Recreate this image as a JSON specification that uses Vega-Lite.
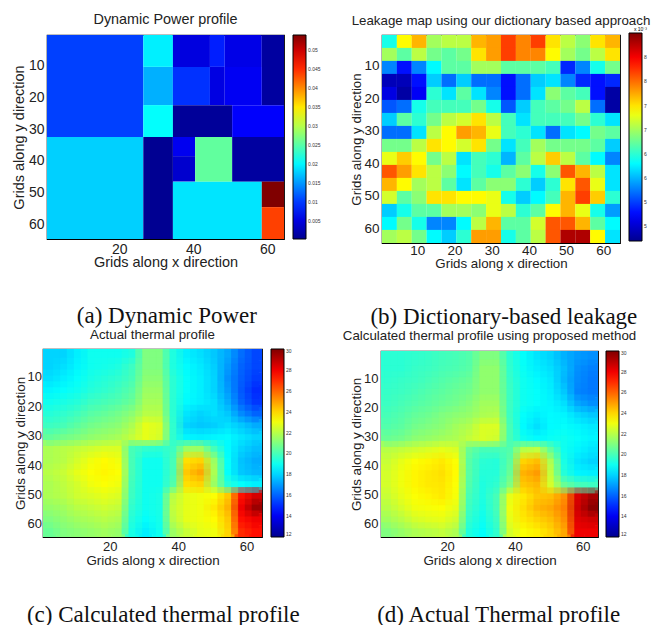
{"$schema":"https://vega.github.io/schema/vega-lite/v6.json","padding":{"left":10,"top":11,"right":0,"bottom":0},"autosize":{"type":"pad"},"background":"white",
"config":{"font":"Liberation Sans","view":{"stroke":"black","strokeWidth":1.2},"axis":{"domain":false,"grid":false,"tickColor":"black","tickSize":-3,"labelColor":"#222","titleColor":"#222","titleFontWeight":"normal","labelPadding":6,"titlePadding":0},"legend":{"labelFontSize":5,"labelColor":"#333","labelOverlap":false,"gradientStrokeColor":"black","gradientStrokeWidth":1,"gradientThickness":13,"labelOffset":2,"titleFontWeight":"normal"},"title":{"font":"Liberation Sans","fontWeight":"normal","color":"#222"}},
"resolve":{"scale":{"color":"independent"}},"spacing":-3,
"vconcat":[
{"hconcat":[
{"title":{"text":"(a) Dynamic Power","orient":"bottom","font":"Liberation Serif","fontSize":23,"color":"#111","anchor":"start","offset":36,"dx":66},"spacing":-34,"resolve":{"scale":{"color":"independent"}},"hconcat":[
{"width":1,"height":1,"view":{"stroke":null},"data":{"values":[{"v":0}]},"mark":{"type":"rect","opacity":0},"encoding":{}},
{"title":{"text":"Dynamic Power profile","fontSize":14.4,"offset":8},"width":237,"height":204,
"data":{"values":[{"x":0.5,"x2":26.5,"y":0.5,"y2":32.5,"v":0.0103},{"x":0.5,"x2":26.5,"y":32.5,"y2":64.5,"v":0.0179},{"x":26.5,"x2":34.5,"y":0.5,"y2":10.5,"v":0.0196},{"x":26.5,"x2":34.5,"y":10.5,"y2":22.5,"v":0.0162},{"x":26.5,"x2":34.5,"y":22.5,"y2":32.5,"v":0.0205},{"x":26.5,"x2":34.5,"y":32.5,"y2":64.5,"v":0.0004},{"x":34.5,"x2":44.5,"y":0.5,"y2":10.5,"v":0.005},{"x":44.5,"x2":48.5,"y":0.5,"y2":10.5,"v":0.0085},{"x":48.5,"x2":58.5,"y":0.5,"y2":10.5,"v":0.0055},{"x":58.5,"x2":64.5,"y":0.5,"y2":22.5,"v":0.0012},{"x":34.5,"x2":44.5,"y":10.5,"y2":22.5,"v":0.0095},{"x":44.5,"x2":48.5,"y":10.5,"y2":22.5,"v":0.0052},{"x":48.5,"x2":58.5,"y":10.5,"y2":22.5,"v":0.0062},{"x":34.5,"x2":50.5,"y":22.5,"y2":32.5,"v":0.0008},{"x":50.5,"x2":64.5,"y":22.5,"y2":32.5,"v":0.0068},{"x":34.5,"x2":40.5,"y":32.5,"y2":38.5,"v":0.006},{"x":34.5,"x2":40.5,"y":38.5,"y2":46.5,"v":0.004},{"x":40.5,"x2":50.5,"y":32.5,"y2":46.5,"v":0.0255},{"x":50.5,"x2":64.5,"y":32.5,"y2":46.5,"v":0.0012},{"x":34.5,"x2":58.5,"y":46.5,"y2":64.5,"v":0.019},{"x":58.5,"x2":64.5,"y":46.5,"y2":54.5,"v":0.054},{"x":58.5,"x2":64.5,"y":54.5,"y2":64.5,"v":0.0439}]},
"mark":{"type":"rect","clip":true,"stroke":null},
"encoding":{"x":{"field":"x","type":"quantitative","scale":{"domain":[0.5,64.5],"nice":false,"zero":false},"axis":{"values":[20,40,60],"title":"Grids along x direction","labelFontSize":14,"titleFontSize":14.5,"titlePadding":-1}},"x2":{"field":"x2"},"y":{"field":"y","type":"quantitative","scale":{"domain":[64.5,0.5],"nice":false,"zero":false},"axis":{"values":[10,20,30,40,50,60],"title":"Grids along y direction","labelFontSize":14,"titleFontSize":14.5,"titlePadding":2}},"y2":{"field":"y2"},"color":{"field":"v","type":"quantitative","scale":{"domain":[0.0002,0.00693,0.02038,0.03383,0.04728,0.054],"range":["#00008f","#0000ff","#00ffff","#ffff00","#ff0000","#800000"],"interpolate":"rgb"},"legend":{"title":null,"orient":"none","legendX":246,"legendY":0,"gradientLength":204,"format":".3~f","values":[0.005,0.01,0.015,0.02,0.025,0.03,0.035,0.04,0.045,0.05]}}}}
]},
{"title":{"text":"(b) Dictionary-based leakage","orient":"bottom","font":"Liberation Serif","fontSize":23,"color":"#111","anchor":"start","offset":36,"dx":21},"vconcat":[
{"title":{"text":"Leakage map using our dictionary based approach","fontSize":13.3,"offset":8},"width":238,"height":208,
"data":{"values":[
{"x":2.5,"y":2.5,"v":5.9},{"x":6.5,"y":2.5,"v":6.9},{"x":10.5,"y":2.5,"v":7.2},{"x":14.5,"y":2.5,"v":6.5},{"x":18.5,"y":2.5,"v":6.6},{"x":22.5,"y":2.5,"v":6.6},{"x":26.5,"y":2.5,"v":7.2},{"x":30.5,"y":2.5,"v":7.3},{"x":34.5,"y":2.5,"v":7.7},{"x":38.5,"y":2.5,"v":7.4},{"x":42.5,"y":2.5,"v":7.7},{"x":46.5,"y":2.5,"v":7.0},{"x":50.5,"y":2.5,"v":6.6},{"x":54.5,"y":2.5,"v":6.4},{"x":58.5,"y":2.5,"v":7.0},{"x":62.5,"y":2.5,"v":7.2},
{"x":2.5,"y":6.5,"v":6.5},{"x":6.5,"y":6.5,"v":6.2},{"x":10.5,"y":6.5,"v":6.6},{"x":14.5,"y":6.5,"v":6.3},{"x":18.5,"y":6.5,"v":6.2},{"x":22.5,"y":6.5,"v":6.3},{"x":26.5,"y":6.5,"v":7.0},{"x":30.5,"y":6.5,"v":7.3},{"x":34.5,"y":6.5,"v":7.7},{"x":38.5,"y":6.5,"v":7.4},{"x":42.5,"y":6.5,"v":7.4},{"x":46.5,"y":6.5,"v":6.9},{"x":50.5,"y":6.5,"v":6.5},{"x":54.5,"y":6.5,"v":6.3},{"x":58.5,"y":6.5,"v":6.6},{"x":62.5,"y":6.5,"v":7.0},
{"x":2.5,"y":10.5,"v":5.3},{"x":6.5,"y":10.5,"v":4.8},{"x":10.5,"y":10.5,"v":5.3},{"x":14.5,"y":10.5,"v":5.8},{"x":18.5,"y":10.5,"v":6.2},{"x":22.5,"y":10.5,"v":6.2},{"x":26.5,"y":10.5,"v":6.5},{"x":30.5,"y":10.5,"v":6.5},{"x":34.5,"y":10.5,"v":6.2},{"x":38.5,"y":10.5,"v":6.2},{"x":42.5,"y":10.5,"v":6.2},{"x":46.5,"y":10.5,"v":6.1},{"x":50.5,"y":10.5,"v":4.9},{"x":54.5,"y":10.5,"v":5.3},{"x":58.5,"y":10.5,"v":5.9},{"x":62.5,"y":10.5,"v":6.3},
{"x":2.5,"y":14.5,"v":4.4},{"x":6.5,"y":14.5,"v":4.4},{"x":10.5,"y":14.5,"v":4.8},{"x":14.5,"y":14.5,"v":5.6},{"x":18.5,"y":14.5,"v":5.2},{"x":22.5,"y":14.5,"v":5.6},{"x":26.5,"y":14.5,"v":5.2},{"x":30.5,"y":14.5,"v":5.2},{"x":34.5,"y":14.5,"v":4.8},{"x":38.5,"y":14.5,"v":5.2},{"x":42.5,"y":14.5,"v":5.6},{"x":46.5,"y":14.5,"v":5.7},{"x":50.5,"y":14.5,"v":5.3},{"x":54.5,"y":14.5,"v":4.9},{"x":58.5,"y":14.5,"v":4.8},{"x":62.5,"y":14.5,"v":4.9},
{"x":2.5,"y":18.5,"v":4.6},{"x":6.5,"y":18.5,"v":4.3},{"x":10.5,"y":18.5,"v":4.7},{"x":14.5,"y":18.5,"v":6.0},{"x":18.5,"y":18.5,"v":5.7},{"x":22.5,"y":18.5,"v":6.2},{"x":26.5,"y":18.5,"v":5.7},{"x":30.5,"y":18.5,"v":5.3},{"x":34.5,"y":18.5,"v":4.8},{"x":38.5,"y":18.5,"v":5.2},{"x":42.5,"y":18.5,"v":5.7},{"x":46.5,"y":18.5,"v":6.4},{"x":50.5,"y":18.5,"v":6.2},{"x":54.5,"y":18.5,"v":6.1},{"x":58.5,"y":18.5,"v":4.8},{"x":62.5,"y":18.5,"v":4.3},
{"x":2.5,"y":22.5,"v":5.1},{"x":6.5,"y":22.5,"v":5.2},{"x":10.5,"y":22.5,"v":5.9},{"x":14.5,"y":22.5,"v":6.1},{"x":18.5,"y":22.5,"v":6.1},{"x":22.5,"y":22.5,"v":6.1},{"x":26.5,"y":22.5,"v":6.3},{"x":30.5,"y":22.5,"v":5.9},{"x":34.5,"y":22.5,"v":5.1},{"x":38.5,"y":22.5,"v":5.6},{"x":42.5,"y":22.5,"v":6.1},{"x":46.5,"y":22.5,"v":6.2},{"x":50.5,"y":22.5,"v":6.3},{"x":54.5,"y":22.5,"v":6.6},{"x":58.5,"y":22.5,"v":5.2},{"x":62.5,"y":22.5,"v":4.3},
{"x":2.5,"y":26.5,"v":5.6},{"x":6.5,"y":26.5,"v":6.2},{"x":10.5,"y":26.5,"v":6.0},{"x":14.5,"y":26.5,"v":6.3},{"x":18.5,"y":26.5,"v":6.6},{"x":22.5,"y":26.5,"v":6.7},{"x":26.5,"y":26.5,"v":7.0},{"x":30.5,"y":26.5,"v":6.6},{"x":34.5,"y":26.5,"v":6.1},{"x":38.5,"y":26.5,"v":5.7},{"x":42.5,"y":26.5,"v":6.1},{"x":46.5,"y":26.5,"v":6.1},{"x":50.5,"y":26.5,"v":6.1},{"x":54.5,"y":26.5,"v":6.3},{"x":58.5,"y":26.5,"v":6.0},{"x":62.5,"y":26.5,"v":5.7},
{"x":2.5,"y":30.5,"v":5.2},{"x":6.5,"y":30.5,"v":5.2},{"x":10.5,"y":30.5,"v":5.7},{"x":14.5,"y":30.5,"v":6.6},{"x":18.5,"y":30.5,"v":6.9},{"x":22.5,"y":30.5,"v":7.3},{"x":26.5,"y":30.5,"v":7.2},{"x":30.5,"y":30.5,"v":6.8},{"x":34.5,"y":30.5,"v":6.1},{"x":38.5,"y":30.5,"v":6.0},{"x":42.5,"y":30.5,"v":5.7},{"x":46.5,"y":30.5,"v":5.2},{"x":50.5,"y":30.5,"v":5.7},{"x":54.5,"y":30.5,"v":5.8},{"x":58.5,"y":30.5,"v":6.3},{"x":62.5,"y":30.5,"v":6.2},
{"x":2.5,"y":34.5,"v":6.3},{"x":6.5,"y":34.5,"v":6.3},{"x":10.5,"y":34.5,"v":6.6},{"x":14.5,"y":34.5,"v":7.0},{"x":18.5,"y":34.5,"v":6.9},{"x":22.5,"y":34.5,"v":6.7},{"x":26.5,"y":34.5,"v":7.0},{"x":30.5,"y":34.5,"v":6.3},{"x":34.5,"y":34.5,"v":5.7},{"x":38.5,"y":34.5,"v":6.1},{"x":42.5,"y":34.5,"v":6.5},{"x":46.5,"y":34.5,"v":6.3},{"x":50.5,"y":34.5,"v":6.3},{"x":54.5,"y":34.5,"v":6.3},{"x":58.5,"y":34.5,"v":6.2},{"x":62.5,"y":34.5,"v":5.6},
{"x":2.5,"y":38.5,"v":6.8},{"x":6.5,"y":38.5,"v":7.1},{"x":10.5,"y":38.5,"v":6.9},{"x":14.5,"y":38.5,"v":6.3},{"x":18.5,"y":38.5,"v":6.6},{"x":22.5,"y":38.5,"v":5.7},{"x":26.5,"y":38.5,"v":6.1},{"x":30.5,"y":38.5,"v":6.0},{"x":34.5,"y":38.5,"v":5.5},{"x":38.5,"y":38.5,"v":6.2},{"x":42.5,"y":38.5,"v":6.6},{"x":46.5,"y":38.5,"v":7.1},{"x":50.5,"y":38.5,"v":6.6},{"x":54.5,"y":38.5,"v":6.2},{"x":58.5,"y":38.5,"v":5.8},{"x":62.5,"y":38.5,"v":5.3},
{"x":2.5,"y":42.5,"v":7.6},{"x":6.5,"y":42.5,"v":7.3},{"x":10.5,"y":42.5,"v":7.0},{"x":14.5,"y":42.5,"v":6.6},{"x":18.5,"y":42.5,"v":6.4},{"x":22.5,"y":42.5,"v":5.8},{"x":26.5,"y":42.5,"v":6.1},{"x":30.5,"y":42.5,"v":5.9},{"x":34.5,"y":42.5,"v":6.2},{"x":38.5,"y":42.5,"v":6.4},{"x":42.5,"y":42.5,"v":5.9},{"x":46.5,"y":42.5,"v":6.4},{"x":50.5,"y":42.5,"v":7.6},{"x":54.5,"y":42.5,"v":7.2},{"x":58.5,"y":42.5,"v":6.6},{"x":62.5,"y":42.5,"v":5.7},
{"x":2.5,"y":46.5,"v":7.2},{"x":6.5,"y":46.5,"v":6.9},{"x":10.5,"y":46.5,"v":6.5},{"x":14.5,"y":46.5,"v":6.6},{"x":18.5,"y":46.5,"v":6.2},{"x":22.5,"y":46.5,"v":5.7},{"x":26.5,"y":46.5,"v":6.2},{"x":30.5,"y":46.5,"v":6.4},{"x":34.5,"y":46.5,"v":6.4},{"x":38.5,"y":46.5,"v":6.0},{"x":42.5,"y":46.5,"v":5.6},{"x":46.5,"y":46.5,"v":6.0},{"x":50.5,"y":46.5,"v":7.0},{"x":54.5,"y":46.5,"v":7.6},{"x":58.5,"y":46.5,"v":6.8},{"x":62.5,"y":46.5,"v":5.7},
{"x":2.5,"y":50.5,"v":6.7},{"x":6.5,"y":50.5,"v":6.2},{"x":10.5,"y":50.5,"v":6.4},{"x":14.5,"y":50.5,"v":7.0},{"x":18.5,"y":50.5,"v":7.0},{"x":22.5,"y":50.5,"v":6.9},{"x":26.5,"y":50.5,"v":6.9},{"x":30.5,"y":50.5,"v":6.8},{"x":34.5,"y":50.5,"v":5.9},{"x":38.5,"y":50.5,"v":5.6},{"x":42.5,"y":50.5,"v":5.8},{"x":46.5,"y":50.5,"v":6.1},{"x":50.5,"y":50.5,"v":7.2},{"x":54.5,"y":50.5,"v":7.7},{"x":58.5,"y":50.5,"v":7.1},{"x":62.5,"y":50.5,"v":6.0},
{"x":2.5,"y":54.5,"v":5.6},{"x":6.5,"y":54.5,"v":5.9},{"x":10.5,"y":54.5,"v":6.2},{"x":14.5,"y":54.5,"v":6.2},{"x":18.5,"y":54.5,"v":6.5},{"x":22.5,"y":54.5,"v":6.5},{"x":26.5,"y":54.5,"v":6.4},{"x":30.5,"y":54.5,"v":6.8},{"x":34.5,"y":54.5,"v":6.6},{"x":38.5,"y":54.5,"v":6.0},{"x":42.5,"y":54.5,"v":6.2},{"x":46.5,"y":54.5,"v":6.9},{"x":50.5,"y":54.5,"v":7.2},{"x":54.5,"y":54.5,"v":6.8},{"x":58.5,"y":54.5,"v":5.9},{"x":62.5,"y":54.5,"v":5.4},
{"x":2.5,"y":58.5,"v":5.8},{"x":6.5,"y":58.5,"v":6.3},{"x":10.5,"y":58.5,"v":5.9},{"x":14.5,"y":58.5,"v":5.3},{"x":18.5,"y":58.5,"v":5.3},{"x":22.5,"y":58.5,"v":5.8},{"x":26.5,"y":58.5,"v":6.6},{"x":30.5,"y":58.5,"v":7.2},{"x":34.5,"y":58.5,"v":6.2},{"x":38.5,"y":58.5,"v":6.2},{"x":42.5,"y":58.5,"v":6.7},{"x":46.5,"y":58.5,"v":7.6},{"x":50.5,"y":58.5,"v":7.6},{"x":54.5,"y":58.5,"v":7.2},{"x":58.5,"y":58.5,"v":6.2},{"x":62.5,"y":58.5,"v":5.8},
{"x":2.5,"y":62.5,"v":6.5},{"x":6.5,"y":62.5,"v":6.6},{"x":10.5,"y":62.5,"v":6.3},{"x":14.5,"y":62.5,"v":5.8},{"x":18.5,"y":62.5,"v":5.6},{"x":22.5,"y":62.5,"v":6.0},{"x":26.5,"y":62.5,"v":7.3},{"x":30.5,"y":62.5,"v":7.3},{"x":34.5,"y":62.5,"v":5.9},{"x":38.5,"y":62.5,"v":6.2},{"x":42.5,"y":62.5,"v":6.6},{"x":46.5,"y":62.5,"v":7.6},{"x":50.5,"y":62.5,"v":8.3},{"x":54.5,"y":62.5,"v":8.3},{"x":58.5,"y":62.5,"v":6.9},{"x":62.5,"y":62.5,"v":5.7}
]},
"mark":{"type":"rect","clip":true,"width":15,"height":13.2},
"encoding":{"x":{"field":"x","type":"quantitative","scale":{"domain":[0.5,64.5],"nice":false,"zero":false},"axis":{"values":[10,20,30,40,50,60],"title":"Grids along x direction","labelFontSize":13.5,"titleFontSize":13.3,"labelPadding":3,"titlePadding":0}},"y":{"field":"y","type":"quantitative","scale":{"domain":[64.5,0.5],"nice":false,"zero":false},"axis":{"values":[10,20,30,40,50,60],"title":"Grids along y direction","labelFontSize":13.5,"titleFontSize":13.3}},"color":{"field":"v","type":"quantitative","scale":{"domain":[4.2,4.7375,5.8125,6.8875,7.9625,8.5],"range":["#00008f","#0000ff","#00ffff","#ffff00","#ff0000","#800000"],"interpolate":"rgb"},"legend":{"title":"x 10⁻³","titleFontSize":5,"titleAnchor":"end","titlePadding":1,"orient":"none","legendX":247,"legendY":-8,"gradientLength":208,"values":[4.5,5,5.5,6,6.5,7,7.5,8]}}}}
]}
],"spacing":27,"resolve":{"scale":{"color":"independent"}}},
{"hconcat":[
{"title":{"text":"(c) Calculated thermal profile","orient":"bottom","font":"Liberation Serif","fontSize":23,"color":"#111","anchor":"start","offset":37,"dx":14},"vconcat":[
{"title":{"text":"Actual thermal profile","fontSize":13.3,"offset":8},"width":219,"height":188,
"data":{"values":[
{"x":2.5,"y":2.5,"v":18},{"x":6.5,"y":2.5,"v":18},{"x":10.5,"y":2.5,"v":18.5},{"x":14.5,"y":2.5,"v":19},{"x":18.5,"y":2.5,"v":19},{"x":22.5,"y":2.5,"v":19},{"x":26.5,"y":2.5,"v":19.3},{"x":30.5,"y":2.5,"v":21},{"x":34.5,"y":2.5,"v":21},{"x":38.5,"y":2.5,"v":19.3},{"x":42.5,"y":2.5,"v":18.5},{"x":46.5,"y":2.5,"v":18.2},{"x":50.5,"y":2.5,"v":17.8},{"x":54.5,"y":2.5,"v":17.2},{"x":58.5,"y":2.5,"v":16.2},{"x":62.5,"y":2.5,"v":15.5},
{"x":2.5,"y":6.5,"v":18},{"x":6.5,"y":6.5,"v":18.2},{"x":10.5,"y":6.5,"v":18.6},{"x":14.5,"y":6.5,"v":19},{"x":18.5,"y":6.5,"v":19.1},{"x":22.5,"y":6.5,"v":19.3},{"x":26.5,"y":6.5,"v":19.8},{"x":30.5,"y":6.5,"v":21},{"x":34.5,"y":6.5,"v":21},{"x":38.5,"y":6.5,"v":19.3},{"x":42.5,"y":6.5,"v":18.7},{"x":46.5,"y":6.5,"v":18.4},{"x":50.5,"y":6.5,"v":17.9},{"x":54.5,"y":6.5,"v":17},{"x":58.5,"y":6.5,"v":16},{"x":62.5,"y":6.5,"v":15.5},
{"x":2.5,"y":10.5,"v":18.2},{"x":6.5,"y":10.5,"v":18.5},{"x":10.5,"y":10.5,"v":18.8},{"x":14.5,"y":10.5,"v":19.2},{"x":18.5,"y":10.5,"v":19.4},{"x":22.5,"y":10.5,"v":19.6},{"x":26.5,"y":10.5,"v":20},{"x":30.5,"y":10.5,"v":21.2},{"x":34.5,"y":10.5,"v":21.2},{"x":38.5,"y":10.5,"v":19.5},{"x":42.5,"y":10.5,"v":18.8},{"x":46.5,"y":10.5,"v":18.5},{"x":50.5,"y":10.5,"v":18},{"x":54.5,"y":10.5,"v":16.8},{"x":58.5,"y":10.5,"v":15.9},{"x":62.5,"y":10.5,"v":15.3},
{"x":2.5,"y":14.5,"v":18.6},{"x":6.5,"y":14.5,"v":18.8},{"x":10.5,"y":14.5,"v":19},{"x":14.5,"y":14.5,"v":19.4},{"x":18.5,"y":14.5,"v":19.6},{"x":22.5,"y":14.5,"v":19.9},{"x":26.5,"y":14.5,"v":20.3},{"x":30.5,"y":14.5,"v":21.5},{"x":34.5,"y":14.5,"v":21.5},{"x":38.5,"y":14.5,"v":19.5},{"x":42.5,"y":14.5,"v":18.8},{"x":46.5,"y":14.5,"v":18.5},{"x":50.5,"y":14.5,"v":18},{"x":54.5,"y":14.5,"v":17},{"x":58.5,"y":14.5,"v":15.8},{"x":62.5,"y":14.5,"v":15},
{"x":2.5,"y":18.5,"v":19},{"x":6.5,"y":18.5,"v":19.2},{"x":10.5,"y":18.5,"v":19.4},{"x":14.5,"y":18.5,"v":19.8},{"x":18.5,"y":18.5,"v":20},{"x":22.5,"y":18.5,"v":20.2},{"x":26.5,"y":18.5,"v":20.6},{"x":30.5,"y":18.5,"v":21.7},{"x":34.5,"y":18.5,"v":21.7},{"x":38.5,"y":18.5,"v":19.5},{"x":42.5,"y":18.5,"v":18.7},{"x":46.5,"y":18.5,"v":18.5},{"x":50.5,"y":18.5,"v":18.2},{"x":54.5,"y":18.5,"v":17.3},{"x":58.5,"y":18.5,"v":16},{"x":62.5,"y":18.5,"v":15.2},
{"x":2.5,"y":22.5,"v":19.4},{"x":6.5,"y":22.5,"v":19.6},{"x":10.5,"y":22.5,"v":19.9},{"x":14.5,"y":22.5,"v":20.3},{"x":18.5,"y":22.5,"v":20.5},{"x":22.5,"y":22.5,"v":20.8},{"x":26.5,"y":22.5,"v":21.2},{"x":30.5,"y":22.5,"v":22},{"x":34.5,"y":22.5,"v":22},{"x":38.5,"y":22.5,"v":19.5},{"x":42.5,"y":22.5,"v":18.3},{"x":46.5,"y":22.5,"v":18},{"x":50.5,"y":22.5,"v":18.2},{"x":54.5,"y":22.5,"v":17.8},{"x":58.5,"y":22.5,"v":16.7},{"x":62.5,"y":22.5,"v":16},
{"x":2.5,"y":26.5,"v":19.8},{"x":6.5,"y":26.5,"v":20},{"x":10.5,"y":26.5,"v":20.4},{"x":14.5,"y":26.5,"v":20.8},{"x":18.5,"y":26.5,"v":21},{"x":22.5,"y":26.5,"v":21.2},{"x":26.5,"y":26.5,"v":21.8},{"x":30.5,"y":26.5,"v":22.8},{"x":34.5,"y":26.5,"v":22.6},{"x":38.5,"y":26.5,"v":19.6},{"x":42.5,"y":26.5,"v":18},{"x":46.5,"y":26.5,"v":17.8},{"x":50.5,"y":26.5,"v":17.9},{"x":54.5,"y":26.5,"v":18.2},{"x":58.5,"y":26.5,"v":17.8},{"x":62.5,"y":26.5,"v":17.3},
{"x":2.5,"y":30.5,"v":20.5},{"x":6.5,"y":30.5,"v":20.8},{"x":10.5,"y":30.5,"v":21},{"x":14.5,"y":30.5,"v":21.3},{"x":18.5,"y":30.5,"v":21.5},{"x":22.5,"y":30.5,"v":21.7},{"x":26.5,"y":30.5,"v":22.2},{"x":30.5,"y":30.5,"v":22.8},{"x":34.5,"y":30.5,"v":22.5},{"x":38.5,"y":30.5,"v":19.6},{"x":42.5,"y":30.5,"v":18.6},{"x":46.5,"y":30.5,"v":18.5},{"x":50.5,"y":30.5,"v":18.6},{"x":54.5,"y":30.5,"v":18.7},{"x":58.5,"y":30.5,"v":18.3},{"x":62.5,"y":30.5,"v":18},
{"x":2.5,"y":34.5,"v":21.8},{"x":6.5,"y":34.5,"v":22},{"x":10.5,"y":34.5,"v":22.2},{"x":14.5,"y":34.5,"v":22.4},{"x":18.5,"y":34.5,"v":22.6},{"x":22.5,"y":34.5,"v":22.6},{"x":26.5,"y":34.5,"v":20},{"x":30.5,"y":34.5,"v":19.6},{"x":34.5,"y":34.5,"v":19.5},{"x":38.5,"y":34.5,"v":19.8},{"x":42.5,"y":34.5,"v":21.5},{"x":46.5,"y":34.5,"v":21.5},{"x":50.5,"y":34.5,"v":20},{"x":54.5,"y":34.5,"v":18.7},{"x":58.5,"y":34.5,"v":18},{"x":62.5,"y":34.5,"v":17.6},
{"x":2.5,"y":38.5,"v":21.8},{"x":6.5,"y":38.5,"v":22},{"x":10.5,"y":38.5,"v":22.5},{"x":14.5,"y":38.5,"v":23},{"x":18.5,"y":38.5,"v":23.3},{"x":22.5,"y":38.5,"v":23},{"x":26.5,"y":38.5,"v":20},{"x":30.5,"y":38.5,"v":19},{"x":34.5,"y":38.5,"v":19},{"x":38.5,"y":38.5,"v":20},{"x":42.5,"y":38.5,"v":23.8},{"x":46.5,"y":38.5,"v":24},{"x":50.5,"y":38.5,"v":21.5},{"x":54.5,"y":38.5,"v":18.8},{"x":58.5,"y":38.5,"v":17.7},{"x":62.5,"y":38.5,"v":17.3},
{"x":2.5,"y":42.5,"v":22},{"x":6.5,"y":42.5,"v":22.3},{"x":10.5,"y":42.5,"v":22.8},{"x":14.5,"y":42.5,"v":23.2},{"x":18.5,"y":42.5,"v":23.4},{"x":22.5,"y":42.5,"v":23.2},{"x":26.5,"y":42.5,"v":20},{"x":30.5,"y":42.5,"v":19},{"x":34.5,"y":42.5,"v":19},{"x":38.5,"y":42.5,"v":20},{"x":42.5,"y":42.5,"v":24.2},{"x":46.5,"y":42.5,"v":24.8},{"x":50.5,"y":42.5,"v":21.8},{"x":54.5,"y":42.5,"v":18.8},{"x":58.5,"y":42.5,"v":17.8},{"x":62.5,"y":42.5,"v":17.5},
{"x":2.5,"y":46.5,"v":21.8},{"x":6.5,"y":46.5,"v":22.1},{"x":10.5,"y":46.5,"v":22.5},{"x":14.5,"y":46.5,"v":23},{"x":18.5,"y":46.5,"v":23.2},{"x":22.5,"y":46.5,"v":23},{"x":26.5,"y":46.5,"v":19.9},{"x":30.5,"y":46.5,"v":19},{"x":34.5,"y":46.5,"v":19},{"x":38.5,"y":46.5,"v":20.2},{"x":42.5,"y":46.5,"v":23.8},{"x":46.5,"y":46.5,"v":24},{"x":50.5,"y":46.5,"v":21.5},{"x":54.5,"y":46.5,"v":19.4},{"x":58.5,"y":46.5,"v":18.8},{"x":62.5,"y":46.5,"v":18.5},
{"x":2.5,"y":50.5,"v":21.8},{"x":6.5,"y":50.5,"v":22},{"x":10.5,"y":50.5,"v":22.4},{"x":14.5,"y":50.5,"v":22.6},{"x":18.5,"y":50.5,"v":22.8},{"x":22.5,"y":50.5,"v":22.6},{"x":26.5,"y":50.5,"v":19.8},{"x":30.5,"y":50.5,"v":19},{"x":34.5,"y":50.5,"v":19.2},{"x":38.5,"y":50.5,"v":22},{"x":42.5,"y":50.5,"v":22.8},{"x":46.5,"y":50.5,"v":23},{"x":50.5,"y":50.5,"v":23.2},{"x":54.5,"y":50.5,"v":24.2},{"x":58.5,"y":50.5,"v":27.5},{"x":62.5,"y":50.5,"v":28.5},
{"x":2.5,"y":54.5,"v":21.4},{"x":6.5,"y":54.5,"v":21.6},{"x":10.5,"y":54.5,"v":22},{"x":14.5,"y":54.5,"v":22.2},{"x":18.5,"y":54.5,"v":22.4},{"x":22.5,"y":54.5,"v":22.2},{"x":26.5,"y":54.5,"v":19.6},{"x":30.5,"y":54.5,"v":19},{"x":34.5,"y":54.5,"v":19.2},{"x":38.5,"y":54.5,"v":22.2},{"x":42.5,"y":54.5,"v":22.8},{"x":46.5,"y":54.5,"v":23},{"x":50.5,"y":54.5,"v":23.6},{"x":54.5,"y":54.5,"v":24.6},{"x":58.5,"y":54.5,"v":28},{"x":62.5,"y":54.5,"v":29.5},
{"x":2.5,"y":58.5,"v":21},{"x":6.5,"y":58.5,"v":21.3},{"x":10.5,"y":58.5,"v":21.6},{"x":14.5,"y":58.5,"v":21.8},{"x":18.5,"y":58.5,"v":22},{"x":22.5,"y":58.5,"v":21.8},{"x":26.5,"y":58.5,"v":19.4},{"x":30.5,"y":58.5,"v":18.8},{"x":34.5,"y":58.5,"v":19.1},{"x":38.5,"y":58.5,"v":22},{"x":42.5,"y":58.5,"v":22.8},{"x":46.5,"y":58.5,"v":23},{"x":50.5,"y":58.5,"v":23.3},{"x":54.5,"y":58.5,"v":24.2},{"x":58.5,"y":58.5,"v":27.5},{"x":62.5,"y":58.5,"v":28},
{"x":2.5,"y":62.5,"v":20.6},{"x":6.5,"y":62.5,"v":21},{"x":10.5,"y":62.5,"v":21.2},{"x":14.5,"y":62.5,"v":21.4},{"x":18.5,"y":62.5,"v":21.6},{"x":22.5,"y":62.5,"v":21.4},{"x":26.5,"y":62.5,"v":19.2},{"x":30.5,"y":62.5,"v":18.5},{"x":34.5,"y":62.5,"v":19},{"x":38.5,"y":62.5,"v":21.5},{"x":42.5,"y":62.5,"v":22.3},{"x":46.5,"y":62.5,"v":22.8},{"x":50.5,"y":62.5,"v":23},{"x":54.5,"y":62.5,"v":24},{"x":58.5,"y":62.5,"v":27},{"x":62.5,"y":62.5,"v":27.5}
]},
"encoding":{"x":{"field":"x","type":"quantitative","scale":{"domain":[0.5,64.5],"nice":false,"zero":false},"axis":{"values":[20,40,60],"title":"Grids along x direction","labelFontSize":13,"titleFontSize":13.4}},"y":{"field":"y","type":"quantitative","scale":{"domain":[64.5,0.5],"nice":false,"zero":false},"axis":{"values":[10,20,30,40,50,60],"title":"Grids along y direction","labelFontSize":13,"titleFontSize":13.4,"labelPadding":4.5,"titlePadding":-0.5}},"color":{"field":"v","type":"quantitative","scale":{"domain":[12,14.25,18.75,23.25,27.75,30],"range":["#00008f","#0000ff","#00ffff","#ffff00","#ff0000","#800000"],"interpolate":"rgb"},"legend":{"title":null,"orient":"none","legendX":228,"legendY":0,"gradientLength":188,"values":[12,14,16,18,20,22,24,26,28,30]}}},
"layer":[
{"mark":{"type":"rect","clip":true,"width":14,"height":12}},
{"mark":{"type":"rect","clip":true,"width":14,"height":12,"xOffset":-3.4,"yOffset":-2.9}},
{"mark":{"type":"rect","clip":true,"width":14,"height":12,"xOffset":3.4,"yOffset":-2.9,"fillOpacity":0.5}},
{"mark":{"type":"rect","clip":true,"width":14,"height":12,"xOffset":-3.4,"yOffset":2.9,"fillOpacity":0.33}},
{"mark":{"type":"rect","clip":true,"width":14,"height":12,"xOffset":3.4,"yOffset":2.9,"fillOpacity":0.25}}
]}
]},
{"title":{"text":"(d) Actual Thermal profile","orient":"bottom","font":"Liberation Serif","fontSize":23,"color":"#111","anchor":"start","offset":37,"dx":35},"spacing":-22,"resolve":{"scale":{"color":"independent"}},"vconcat":[
{"width":1,"height":1,"view":{"stroke":null},"data":{"values":[{"v":0}]},"mark":{"type":"rect","opacity":0},"encoding":{}},
{"title":{"text":"Calculated thermal profile using proposed method","fontSize":13.3,"offset":9},"width":217,"height":186,
"data":{"values":[
{"x":2.5,"y":2.5,"v":19.5},{"x":6.5,"y":2.5,"v":19.5},{"x":10.5,"y":2.5,"v":19.6},{"x":14.5,"y":2.5,"v":19.7},{"x":18.5,"y":2.5,"v":19.9},{"x":22.5,"y":2.5,"v":20},{"x":26.5,"y":2.5,"v":20.2},{"x":30.5,"y":2.5,"v":21},{"x":34.5,"y":2.5,"v":21},{"x":38.5,"y":2.5,"v":19.5},{"x":42.5,"y":2.5,"v":18.8},{"x":46.5,"y":2.5,"v":18.3},{"x":50.5,"y":2.5,"v":18},{"x":54.5,"y":2.5,"v":17.4},{"x":58.5,"y":2.5,"v":17},{"x":62.5,"y":2.5,"v":16.8},
{"x":2.5,"y":6.5,"v":19.5},{"x":6.5,"y":6.5,"v":19.5},{"x":10.5,"y":6.5,"v":19.7},{"x":14.5,"y":6.5,"v":19.8},{"x":18.5,"y":6.5,"v":20},{"x":22.5,"y":6.5,"v":20.1},{"x":26.5,"y":6.5,"v":20.3},{"x":30.5,"y":6.5,"v":21.3},{"x":34.5,"y":6.5,"v":21.3},{"x":38.5,"y":6.5,"v":19.6},{"x":42.5,"y":6.5,"v":18.9},{"x":46.5,"y":6.5,"v":18.5},{"x":50.5,"y":6.5,"v":18.2},{"x":54.5,"y":6.5,"v":17.6},{"x":58.5,"y":6.5,"v":16.8},{"x":62.5,"y":6.5,"v":16.5},
{"x":2.5,"y":10.5,"v":19.6},{"x":6.5,"y":10.5,"v":19.7},{"x":10.5,"y":10.5,"v":19.8},{"x":14.5,"y":10.5,"v":20},{"x":18.5,"y":10.5,"v":20.2},{"x":22.5,"y":10.5,"v":20.4},{"x":26.5,"y":10.5,"v":20.6},{"x":30.5,"y":10.5,"v":21.3},{"x":34.5,"y":10.5,"v":21.3},{"x":38.5,"y":10.5,"v":19.7},{"x":42.5,"y":10.5,"v":19},{"x":46.5,"y":10.5,"v":18.7},{"x":50.5,"y":10.5,"v":18.4},{"x":54.5,"y":10.5,"v":17.5},{"x":58.5,"y":10.5,"v":16.7},{"x":62.5,"y":10.5,"v":16.4},
{"x":2.5,"y":14.5,"v":19.7},{"x":6.5,"y":14.5,"v":19.8},{"x":10.5,"y":14.5,"v":20},{"x":14.5,"y":14.5,"v":20.2},{"x":18.5,"y":14.5,"v":20.4},{"x":22.5,"y":14.5,"v":20.6},{"x":26.5,"y":14.5,"v":20.8},{"x":30.5,"y":14.5,"v":21.3},{"x":34.5,"y":14.5,"v":21.3},{"x":38.5,"y":14.5,"v":19.8},{"x":42.5,"y":14.5,"v":19},{"x":46.5,"y":14.5,"v":18.8},{"x":50.5,"y":14.5,"v":18.5},{"x":54.5,"y":14.5,"v":17.8},{"x":58.5,"y":14.5,"v":16.6},{"x":62.5,"y":14.5,"v":16.4},
{"x":2.5,"y":18.5,"v":19.8},{"x":6.5,"y":18.5,"v":20},{"x":10.5,"y":18.5,"v":20.2},{"x":14.5,"y":18.5,"v":20.4},{"x":18.5,"y":18.5,"v":20.6},{"x":22.5,"y":18.5,"v":20.8},{"x":26.5,"y":18.5,"v":21.1},{"x":30.5,"y":18.5,"v":21.6},{"x":34.5,"y":18.5,"v":21.6},{"x":38.5,"y":18.5,"v":19.8},{"x":42.5,"y":18.5,"v":19},{"x":46.5,"y":18.5,"v":18.8},{"x":50.5,"y":18.5,"v":18.6},{"x":54.5,"y":18.5,"v":18.2},{"x":58.5,"y":18.5,"v":17.2},{"x":62.5,"y":18.5,"v":16.8},
{"x":2.5,"y":22.5,"v":20},{"x":6.5,"y":22.5,"v":20.2},{"x":10.5,"y":22.5,"v":20.5},{"x":14.5,"y":22.5,"v":20.7},{"x":18.5,"y":22.5,"v":21},{"x":22.5,"y":22.5,"v":21.2},{"x":26.5,"y":22.5,"v":21.4},{"x":30.5,"y":22.5,"v":21.8},{"x":34.5,"y":22.5,"v":21.9},{"x":38.5,"y":22.5,"v":19.8},{"x":42.5,"y":22.5,"v":18.8},{"x":46.5,"y":22.5,"v":18.5},{"x":50.5,"y":22.5,"v":18.7},{"x":54.5,"y":22.5,"v":18.6},{"x":58.5,"y":22.5,"v":18.1},{"x":62.5,"y":22.5,"v":17.8},
{"x":2.5,"y":26.5,"v":20.2},{"x":6.5,"y":26.5,"v":20.4},{"x":10.5,"y":26.5,"v":20.8},{"x":14.5,"y":26.5,"v":21},{"x":18.5,"y":26.5,"v":21.2},{"x":22.5,"y":26.5,"v":21.6},{"x":26.5,"y":26.5,"v":21.9},{"x":30.5,"y":26.5,"v":22.6},{"x":34.5,"y":26.5,"v":22.6},{"x":38.5,"y":26.5,"v":20},{"x":42.5,"y":26.5,"v":18.7},{"x":46.5,"y":26.5,"v":18.2},{"x":50.5,"y":26.5,"v":18.7},{"x":54.5,"y":26.5,"v":18.8},{"x":58.5,"y":26.5,"v":18.6},{"x":62.5,"y":26.5,"v":18.4},
{"x":2.5,"y":30.5,"v":20.6},{"x":6.5,"y":30.5,"v":20.8},{"x":10.5,"y":30.5,"v":21.2},{"x":14.5,"y":30.5,"v":21.4},{"x":18.5,"y":30.5,"v":21.6},{"x":22.5,"y":30.5,"v":21.8},{"x":26.5,"y":30.5,"v":22.2},{"x":30.5,"y":30.5,"v":22.6},{"x":34.5,"y":30.5,"v":22.4},{"x":38.5,"y":30.5,"v":20},{"x":42.5,"y":30.5,"v":19},{"x":46.5,"y":30.5,"v":18.7},{"x":50.5,"y":30.5,"v":18.9},{"x":54.5,"y":30.5,"v":19},{"x":58.5,"y":30.5,"v":18.8},{"x":62.5,"y":30.5,"v":18.6},
{"x":2.5,"y":34.5,"v":22},{"x":6.5,"y":34.5,"v":22.2},{"x":10.5,"y":34.5,"v":22.4},{"x":14.5,"y":34.5,"v":22.6},{"x":18.5,"y":34.5,"v":22.8},{"x":22.5,"y":34.5,"v":22.6},{"x":26.5,"y":34.5,"v":20.6},{"x":30.5,"y":34.5,"v":20},{"x":34.5,"y":34.5,"v":20},{"x":38.5,"y":34.5,"v":20.2},{"x":42.5,"y":34.5,"v":22},{"x":46.5,"y":34.5,"v":22.2},{"x":50.5,"y":34.5,"v":20.5},{"x":54.5,"y":34.5,"v":19},{"x":58.5,"y":34.5,"v":18.6},{"x":62.5,"y":34.5,"v":18.3},
{"x":2.5,"y":38.5,"v":22.3},{"x":6.5,"y":38.5,"v":22.8},{"x":10.5,"y":38.5,"v":23.2},{"x":14.5,"y":38.5,"v":23.4},{"x":18.5,"y":38.5,"v":23.6},{"x":22.5,"y":38.5,"v":23.2},{"x":26.5,"y":38.5,"v":20.3},{"x":30.5,"y":38.5,"v":19.5},{"x":34.5,"y":38.5,"v":19.4},{"x":38.5,"y":38.5,"v":20.4},{"x":42.5,"y":38.5,"v":24},{"x":46.5,"y":38.5,"v":24.4},{"x":50.5,"y":38.5,"v":21.8},{"x":54.5,"y":38.5,"v":19.2},{"x":58.5,"y":38.5,"v":18.3},{"x":62.5,"y":38.5,"v":18},
{"x":2.5,"y":42.5,"v":22.5},{"x":6.5,"y":42.5,"v":23},{"x":10.5,"y":42.5,"v":23.4},{"x":14.5,"y":42.5,"v":23.6},{"x":18.5,"y":42.5,"v":23.8},{"x":22.5,"y":42.5,"v":23.3},{"x":26.5,"y":42.5,"v":20.3},{"x":30.5,"y":42.5,"v":19.4},{"x":34.5,"y":42.5,"v":19.4},{"x":38.5,"y":42.5,"v":20.6},{"x":42.5,"y":42.5,"v":24.6},{"x":46.5,"y":42.5,"v":25},{"x":50.5,"y":42.5,"v":22.2},{"x":54.5,"y":42.5,"v":19.4},{"x":58.5,"y":42.5,"v":18.6},{"x":62.5,"y":42.5,"v":18.5},
{"x":2.5,"y":46.5,"v":22.5},{"x":6.5,"y":46.5,"v":23},{"x":10.5,"y":46.5,"v":23.4},{"x":14.5,"y":46.5,"v":23.6},{"x":18.5,"y":46.5,"v":23.7},{"x":22.5,"y":46.5,"v":23.2},{"x":26.5,"y":46.5,"v":20.2},{"x":30.5,"y":46.5,"v":19.3},{"x":34.5,"y":46.5,"v":19.6},{"x":38.5,"y":46.5,"v":21},{"x":42.5,"y":46.5,"v":24.2},{"x":46.5,"y":46.5,"v":24.5},{"x":50.5,"y":46.5,"v":22.5},{"x":54.5,"y":46.5,"v":20.6},{"x":58.5,"y":46.5,"v":20},{"x":62.5,"y":46.5,"v":19.8},
{"x":2.5,"y":50.5,"v":22.3},{"x":6.5,"y":50.5,"v":22.8},{"x":10.5,"y":50.5,"v":23.2},{"x":14.5,"y":50.5,"v":23.4},{"x":18.5,"y":50.5,"v":23.6},{"x":22.5,"y":50.5,"v":23.1},{"x":26.5,"y":50.5,"v":20},{"x":30.5,"y":50.5,"v":19.3},{"x":34.5,"y":50.5,"v":20},{"x":38.5,"y":50.5,"v":22.8},{"x":42.5,"y":50.5,"v":23.6},{"x":46.5,"y":50.5,"v":24.2},{"x":50.5,"y":50.5,"v":24.4},{"x":54.5,"y":50.5,"v":25.2},{"x":58.5,"y":50.5,"v":28.4},{"x":62.5,"y":50.5,"v":29.3},
{"x":2.5,"y":54.5,"v":22},{"x":6.5,"y":54.5,"v":22.5},{"x":10.5,"y":54.5,"v":23},{"x":14.5,"y":54.5,"v":23.1},{"x":18.5,"y":54.5,"v":23.2},{"x":22.5,"y":54.5,"v":22.8},{"x":26.5,"y":54.5,"v":19.8},{"x":30.5,"y":54.5,"v":19.2},{"x":34.5,"y":54.5,"v":20},{"x":38.5,"y":54.5,"v":23},{"x":42.5,"y":54.5,"v":23.8},{"x":46.5,"y":54.5,"v":24.5},{"x":50.5,"y":54.5,"v":24.8},{"x":54.5,"y":54.5,"v":25.5},{"x":58.5,"y":54.5,"v":28.6},{"x":62.5,"y":54.5,"v":29.8},
{"x":2.5,"y":58.5,"v":21.6},{"x":6.5,"y":58.5,"v":22},{"x":10.5,"y":58.5,"v":22.5},{"x":14.5,"y":58.5,"v":22.7},{"x":18.5,"y":58.5,"v":22.8},{"x":22.5,"y":58.5,"v":22.4},{"x":26.5,"y":58.5,"v":19.6},{"x":30.5,"y":58.5,"v":19},{"x":34.5,"y":58.5,"v":19.8},{"x":38.5,"y":58.5,"v":22.8},{"x":42.5,"y":58.5,"v":23.6},{"x":46.5,"y":58.5,"v":24},{"x":50.5,"y":58.5,"v":24.4},{"x":54.5,"y":58.5,"v":25.2},{"x":58.5,"y":58.5,"v":28.3},{"x":62.5,"y":58.5,"v":28.6},
{"x":2.5,"y":62.5,"v":21},{"x":6.5,"y":62.5,"v":21.4},{"x":10.5,"y":62.5,"v":21.8},{"x":14.5,"y":62.5,"v":22},{"x":18.5,"y":62.5,"v":22.2},{"x":22.5,"y":62.5,"v":21.8},{"x":26.5,"y":62.5,"v":19.3},{"x":30.5,"y":62.5,"v":18.8},{"x":34.5,"y":62.5,"v":19.6},{"x":38.5,"y":62.5,"v":22.5},{"x":42.5,"y":62.5,"v":23.2},{"x":46.5,"y":62.5,"v":23.5},{"x":50.5,"y":62.5,"v":24},{"x":54.5,"y":62.5,"v":24.8},{"x":58.5,"y":62.5,"v":28},{"x":62.5,"y":62.5,"v":28}
]},
"encoding":{"x":{"field":"x","type":"quantitative","scale":{"domain":[0.5,64.5],"nice":false,"zero":false},"axis":{"values":[20,40,60],"title":"Grids along x direction","labelFontSize":13,"titleFontSize":13.4}},"y":{"field":"y","type":"quantitative","scale":{"domain":[64.5,0.5],"nice":false,"zero":false},"axis":{"values":[10,20,30,40,50,60],"title":"Grids along y direction","labelFontSize":13,"titleFontSize":13.4}},"color":{"field":"v","type":"quantitative","scale":{"domain":[12,14.25,18.75,23.25,27.75,30],"range":["#00008f","#0000ff","#00ffff","#ffff00","#ff0000","#800000"],"interpolate":"rgb"},"legend":{"title":null,"orient":"none","legendX":225,"legendY":0,"gradientLength":186,"values":[12,14,16,18,20,22,24,26,28,30]}}},
"layer":[
{"mark":{"type":"rect","clip":true,"width":14,"height":12}},
{"mark":{"type":"rect","clip":true,"width":14,"height":12,"xOffset":-3.4,"yOffset":-2.9}},
{"mark":{"type":"rect","clip":true,"width":14,"height":12,"xOffset":3.4,"yOffset":-2.9,"fillOpacity":0.5}},
{"mark":{"type":"rect","clip":true,"width":14,"height":12,"xOffset":-3.4,"yOffset":2.9,"fillOpacity":0.33}},
{"mark":{"type":"rect","clip":true,"width":14,"height":12,"xOffset":3.4,"yOffset":2.9,"fillOpacity":0.25}}
]}
]}
],"spacing":42,"resolve":{"scale":{"color":"independent"}}}
]}
